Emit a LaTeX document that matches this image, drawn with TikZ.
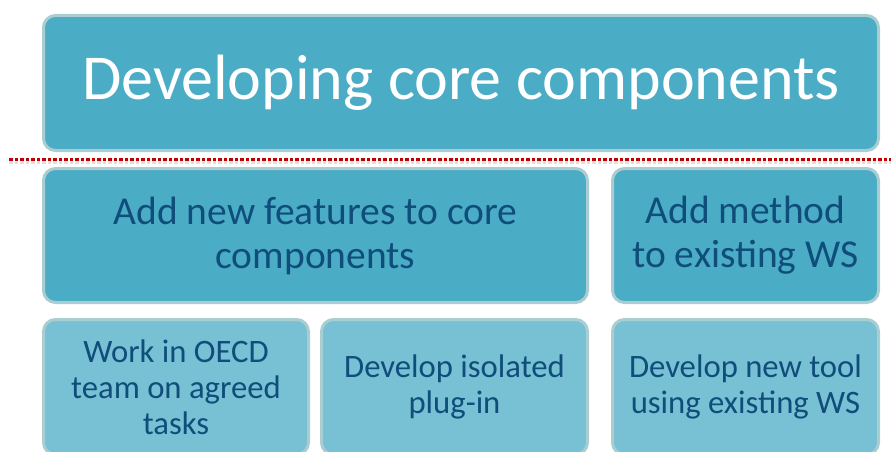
\documentclass[tikz,border=0pt]{standalone}
\usepackage{fontspec}
\setmainfont{Carlito}
\definecolor{tealfill}{HTML}{4BACC6}
\definecolor{lightfill}{HTML}{78C0D3}
\definecolor{edgecol}{HTML}{A9CDD1}
\definecolor{darktext}{HTML}{0F4D7A}
\definecolor{dotred}{HTML}{C00000}
\tikzset{
  panel/.style={draw=edgecol, line width=3pt, rounded corners=12pt, fill=tealfill,
    align=center, inner sep=0pt},
  subpanel/.style={panel, fill=lightfill},
  titletext/.style={text=white, font=\fontsize{64}{76}\selectfont},
  midtext/.style={text=darktext, font=\fontsize{39.5}{44}\selectfont},
  lowtext/.style={text=darktext, font=\fontsize{32.7}{36}\selectfont},
}
\begin{document}
\begin{tikzpicture}[x=1pt,y=-1pt]
  \useasboundingbox (0,0) rectangle (891,452);
  \clip (0,0) rectangle (891,452);

  % heading panel
  \node[panel, titletext, minimum width=835pt, minimum height=135pt]
    (title) at (461,83) {Developing core components};

  % dotted separator with a faint shadow
  \draw[black!12, line width=3pt, dash pattern=on 3.5pt off 2pt] (9,162) -- (891,162);
  \draw[dotred, line width=3pt, dash pattern=on 3.5pt off 2pt] (9,159) -- (891,159);

  % middle row
  \node[panel, midtext, minimum width=544pt, minimum height=134pt]
    (features) at (315.5,235.5) {Add new features to core\\components};
  \node[panel, midtext, minimum width=266pt, minimum height=134pt]
    (method) at (745.5,235.5) {Add method\\to existing WS};

  % lower row
  \node[subpanel, lowtext, minimum width=265pt, minimum height=135pt]
    (oecd) at (176,387) {Work in OECD\\team on agreed\\tasks};
  \node[subpanel, lowtext, minimum width=266pt, minimum height=135pt]
    (plugin) at (454.5,387) {Develop isolated\\plug-in};
  \node[subpanel, lowtext, minimum width=266pt, minimum height=135pt]
    (newtool) at (745.5,387) {Develop new tool\\using existing WS};
\end{tikzpicture}
\end{document}
